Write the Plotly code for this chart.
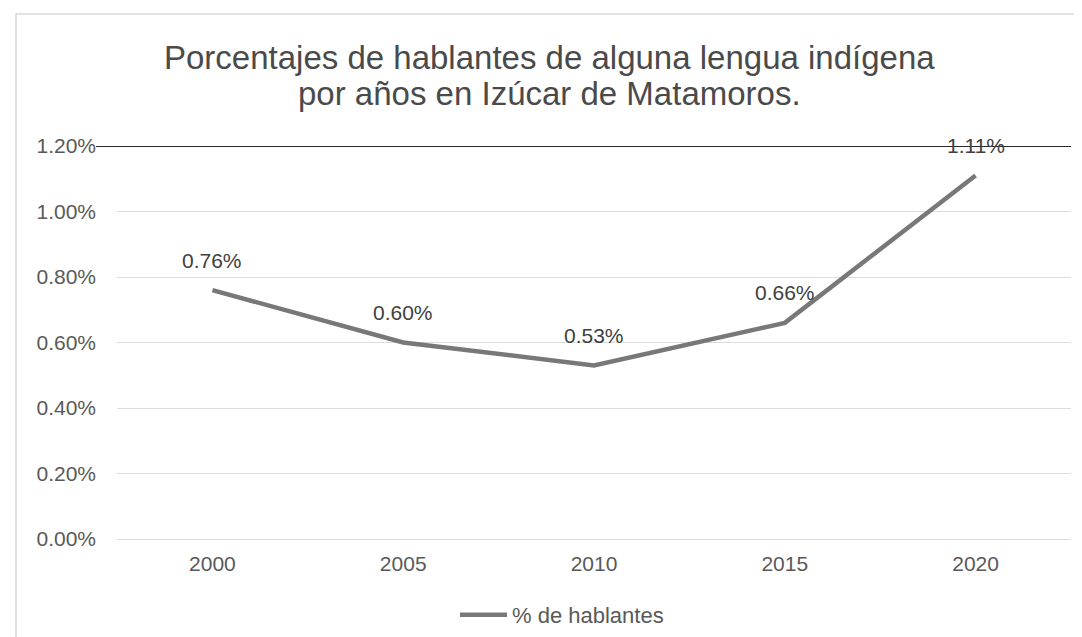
import plotly.graph_objects as go

# Data
years = ["2000", "2005", "2010", "2015", "2020"]
pct_hablantes = [0.76, 0.60, 0.53, 0.66, 1.11]
pct_labels = ["0.76%", "0.60%", "0.53%", "0.66%", "1.11%"]
y_ticks = [0, 0.2, 0.4, 0.6, 0.8, 1.0, 1.2]
y_tick_labels = ["0.00%", "0.20%", "0.40%", "0.60%", "0.80%", "1.00%", "1.20%"]
title_lines = ["Porcentajes de hablantes de alguna lengua indígena",
               "por años en Izúcar de Matamoros."]

FONT = "Liberation Sans, Arial, sans-serif"
LINE_COLOR = "#787878"
TEXT_COLOR = "#595959"

# plot area in pixels
L, R, T, B = 109, 19, 138, 106
PW, PH = 1082 - L - R, 637 - T - B


def py(p):
    # pixel row -> paper y
    return (637 - B - p) / PH


def px_(p):
    # pixel column -> paper x
    return (p - L) / PW


fig = go.Figure()
fig.add_trace(go.Scatter(
    x=years,
    y=pct_hablantes,
    mode="lines",
    name="% de hablantes",
    line=dict(color=LINE_COLOR, width=4.5),
))

# data labels above each point
for i, (val, lab) in enumerate(zip(pct_hablantes, pct_labels)):
    fig.add_annotation(
        x=i, y=val, text=lab, showarrow=False,
        yshift=30, font=dict(family=FONT, size=21, color="#404040"),
    )

# title, two lines
for txt, yc in zip(title_lines, [49, 86]):
    fig.add_annotation(
        xref="paper", yref="paper", x=px_(541), y=py(yc),
        xanchor="center", yanchor="middle", text=txt, showarrow=False,
        font=dict(family=FONT, size=33, color="#4a4a4a"),
    )

# dark line on top (1.20%)
fig.add_shape(type="line", xref="paper", yref="y", x0=px_(88), x1=1.0,
              y0=1.2, y1=1.2, line=dict(color="#2b2b2b", width=2))

# outer chart border
fig.add_shape(type="rect", xref="paper", yref="paper",
              x0=px_(8), x1=px_(1076), y0=py(633), y1=py(6),
              line=dict(color="#d9d9d9", width=1.5))

fig.update_layout(
    width=1082,
    height=637,
    paper_bgcolor="white",
    plot_bgcolor="white",
    margin=dict(l=L, r=R, t=T, b=B),
    font=dict(family=FONT, color=TEXT_COLOR),
    showlegend=True,
    legend=dict(
        orientation="h", x=px_(554), xanchor="center",
        yref="container", y=1 - 607 / 637, yanchor="middle",
        itemwidth=47,
        font=dict(family=FONT, size=22, color=TEXT_COLOR),
    ),
    xaxis=dict(
        type="category",
        range=[-0.5, len(years) - 0.5],
        showgrid=False,
        showline=False,
        ticks="",
        ticklabelstandoff=10,
        tickfont=dict(family=FONT, size=21, color=TEXT_COLOR),
    ),
    yaxis=dict(
        range=[0, 1.2],
        tickvals=y_ticks,
        ticktext=y_tick_labels,
        showgrid=True,
        gridcolor="#dcdcdc",
        gridwidth=1,
        zeroline=True,
        zerolinecolor="#dcdcdc",
        zerolinewidth=1,
        showline=False,
        ticks="",
        ticklabelstandoff=20,
        tickfont=dict(family=FONT, size=21, color=TEXT_COLOR),
    ),
)

fig.write_html("out.html")
